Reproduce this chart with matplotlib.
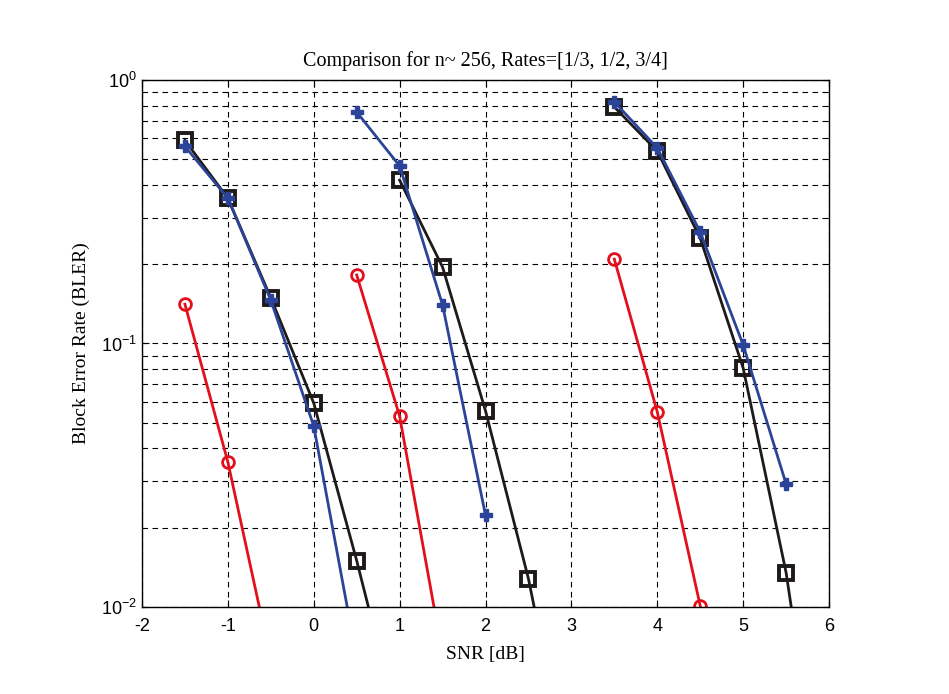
import matplotlib
matplotlib.use("Agg")
import matplotlib.pyplot as plt
from matplotlib.ticker import LogLocator, FixedLocator, NullFormatter

plt.rcParams['axes.unicode_minus'] = False

# SNR points and BLER for each rate group (rate 1/3, 1/2, 3/4)
snr_r1 = [-1.5, -1.0, -0.5]
red_r1 = [0.141, 0.0355, 0.0063]
snr_k1 = [-1.5, -1.0, -0.5, 0.0, 0.5, 1.0]
blk_r1 = [0.59, 0.356, 0.149, 0.0594, 0.0150, 0.0034]
snr_b1 = [-1.5, -1.0, -0.5, 0.0, 0.5]
blu_r1 = [0.56, 0.356, 0.146, 0.0486, 0.0064]

snr_r2 = [0.5, 1.0, 1.5]
red_r2 = [0.182, 0.053, 0.0066]
snr_k2 = [1.0, 1.5, 2.0, 2.5, 3.0]
blk_r2 = [0.417, 0.195, 0.0555, 0.0128, 0.002]
snr_b2 = [0.5, 1.0, 1.5, 2.0]
blu_r2 = [0.756, 0.472, 0.14, 0.0223]

snr_r3 = [3.5, 4.0, 4.5]
red_r3 = [0.209, 0.055, 0.0101]
snr_k3 = [3.5, 4.0, 4.5, 5.0, 5.5, 6.0]
blk_r3 = [0.79, 0.537, 0.251, 0.0807, 0.0135, 0.0011]
snr_b3 = [3.5, 4.0, 4.5, 5.0, 5.5]
blu_r3 = [0.826, 0.552, 0.265, 0.0987, 0.0293]

red = '#e3101c'
black = '#1e1a1a'
blue = '#2b4499'

fig = plt.figure(figsize=(9.49, 6.94), dpi=100)
ax = fig.add_axes([0.1496, 0.1254, 0.7240, 0.7593])

for xs, ys in [(snr_r1, red_r1), (snr_r2, red_r2), (snr_r3, red_r3)]:
    ax.semilogy(xs, ys, '-o', color=red, lw=2.0, ms=8.5, mfc='none', mew=2.0)
for xs, ys in [(snr_k1, blk_r1), (snr_k2, blk_r2), (snr_k3, blk_r3)]:
    ax.semilogy(xs, ys, '-s', color=black, lw=2.0, ms=10.5, mfc='none', mew=2.8)
for xs, ys in [(snr_b1, blu_r1), (snr_b2, blu_r2), (snr_b3, blu_r3)]:
    ax.semilogy(xs, ys, '-P', color=blue, lw=2.0, ms=8.5, mec=blue, mfc=blue)

ax.set_xlim(-2, 6)
ax.set_ylim(1e-2, 1)
ax.xaxis.set_major_locator(FixedLocator(range(-2, 7)))
ax.yaxis.set_major_locator(LogLocator(base=10, numticks=10))
ax.yaxis.set_minor_locator(LogLocator(base=10, subs=range(2, 10), numticks=10))
ax.yaxis.set_minor_formatter(NullFormatter())

ax.grid(True, which='major', ls=(0, (5, 4)), color='black', lw=0.8)
ax.grid(True, which='minor', axis='y', ls=(0, (5, 4)), color='black', lw=0.8)
ax.tick_params(which='both', direction='in', top=True, right=True, labelsize=13)
ax.tick_params(axis='x', pad=8)
ax.tick_params(which='minor', length=3)
ax.tick_params(which='major', length=5)
for lbl in ax.get_xticklabels() + ax.get_yticklabels():
    lbl.set_family('Liberation Sans')
for s in ax.spines.values():
    s.set_linewidth(1.0)

ax.set_title('Comparison for n~ 256, Rates=[1/3, 1/2, 3/4]', family='Liberation Serif',
             fontsize=14.5, pad=10)
ax.set_xlabel('SNR [dB]', family='Liberation Serif', fontsize=14, labelpad=8)
ax.set_ylabel('Block Error Rate (BLER)', family='Liberation Serif', fontsize=14, labelpad=8)

fig.savefig('out.png', dpi=100)
